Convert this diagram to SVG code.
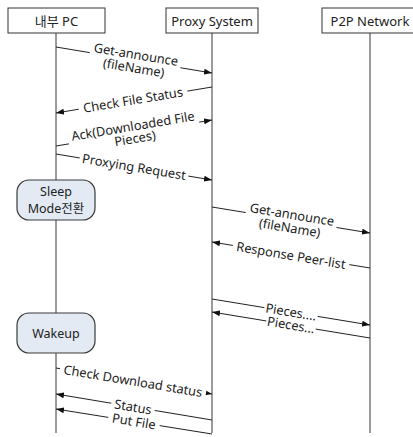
<svg xmlns="http://www.w3.org/2000/svg" width="413" height="437" viewBox="0 0 413 437">
<defs>
<marker id="ah" markerWidth="8" markerHeight="6" refX="8" refY="3" orient="auto" markerUnits="userSpaceOnUse">
<path d="M0,0 L8,3 L0,6 z" fill="#111"/>
</marker>
<style>
text{font-family:"Noto Sans","Noto Sans CJK KR",sans-serif;fill:#222;}
.hdr{fill:#fff;stroke:#333;stroke-width:1;}
.hdrt{font-size:13px;text-anchor:middle;}
.life{stroke:#7a7a7a;stroke-width:1.5;fill:none;}
.msg{stroke:#222;stroke-width:1;fill:none;marker-end:url(#ah);}
.gap{fill:#fff;}
.lbl{font-size:12.8px;text-anchor:middle;}
.state{fill:#e3eaf4;stroke:#3a3a3a;stroke-width:1.2;}
.st{font-size:12.5px;text-anchor:middle;}
</style>
</defs>
<rect width="413" height="437" fill="#fff"/>
<g id="lifelines">
<line class="life" x1="56" y1="33" x2="56" y2="433"/>
<line class="life" x1="212" y1="33" x2="212" y2="433"/>
<line class="life" x1="370" y1="33" x2="370" y2="433"/>
</g>
<g id="pc">
<rect class="hdr" x="8" y="8" width="97" height="25"/>
<text class="hdrt" x="56.5" y="25.5">내부 PC</text>
</g>
<g id="proxy">
<rect class="hdr" x="166" y="8" width="92" height="25"/>
<text class="hdrt" x="212" y="25.5">Proxy System</text>
</g>
<g id="p2p">
<rect class="hdr" x="322" y="8" width="96" height="25"/>
<text class="hdrt" x="370" y="25.5">P2P Network</text>
</g>
<g id="sleep">
<rect class="state" x="17" y="180" width="78" height="40" rx="12"/>
<text class="st" x="56" y="195.5">Sleep</text>
<text class="st" x="56" y="212.5">Mode전환</text>
</g>
<g id="wakeup">
<rect class="state" x="17" y="313" width="78" height="40" rx="12"/>
<text class="st" x="56" y="337.5">Wakeup</text>
</g>
<g id="connectors">
<line class="msg" x1="56" y1="47" x2="212" y2="73"/>
<g transform="translate(135,60.5) rotate(9.46)"><rect class="gap" x="-46" y="-14" width="92" height="28"/><text class="lbl" x="0" y="-1.5">Get-announce</text><text class="lbl" x="0" y="12">(fileName)</text></g>
<line class="msg" x1="212" y1="87" x2="56" y2="113"/>
<g transform="translate(133,100) rotate(-9.46)"><rect class="gap" x="-55" y="-7" width="110" height="14"/><text class="lbl" x="0" y="4.5">Check File Status</text></g>
<line class="msg" x1="56" y1="146" x2="212" y2="120"/>
<g transform="translate(134,132.5) rotate(-9.46)"><rect class="gap" x="-66" y="-14" width="132" height="28"/><text class="lbl" x="0" y="-2">Ack(Downloaded File</text><text class="lbl" x="0" y="10.5">Pieces)</text></g>
<line class="msg" x1="56" y1="154" x2="212" y2="180"/>
<g transform="translate(134,167) rotate(9.46)"><rect class="gap" x="-55" y="-7" width="110" height="14"/><text class="lbl" x="0" y="4.5">Proxying Request</text></g>
<line class="msg" x1="212" y1="207" x2="370" y2="233"/>
<g transform="translate(291,220.5) rotate(9.46)"><rect class="gap" x="-46" y="-14" width="92" height="28"/><text class="lbl" x="0" y="-1.5">Get-announce</text><text class="lbl" x="0" y="12">(fileName)</text></g>
<line class="msg" x1="370" y1="268" x2="212" y2="242"/>
<g transform="translate(291,255.5) rotate(9.46)"><rect class="gap" x="-59" y="-7" width="118" height="14"/><text class="lbl" x="0" y="4.5">Response Peer-list</text></g>
<line class="msg" x1="212" y1="299" x2="370" y2="325"/>
<g transform="translate(291,312) rotate(9.46)"><rect class="gap" x="-27" y="-6" width="54" height="12"/><text class="lbl" x="0" y="4.5">Pieces....</text></g>
<line class="msg" x1="370" y1="338" x2="212" y2="312"/>
<g transform="translate(291,325) rotate(9.46)"><rect class="gap" x="-25" y="-6" width="50" height="12"/><text class="lbl" x="0" y="4.5">Pieces...</text></g>
<line class="msg" x1="56" y1="368" x2="212" y2="394"/>
<g transform="translate(133,381) rotate(9.46)"><rect class="gap" x="-74" y="-7" width="148" height="14"/><text class="lbl" x="0" y="4.5">Check Download status</text></g>
<line class="msg" x1="212" y1="420" x2="56" y2="394"/>
<g transform="translate(133,407) rotate(9.46)"><rect class="gap" x="-22" y="-6" width="44" height="12"/><text class="lbl" x="0" y="4.5">Status</text></g>
<line class="msg" x1="212" y1="434" x2="56" y2="409"/>
<g transform="translate(134,421.5) rotate(9.46)"><rect class="gap" x="-26" y="-6" width="52" height="12"/><text class="lbl" x="0" y="4.5">Put File</text></g>
</g>
</svg>
